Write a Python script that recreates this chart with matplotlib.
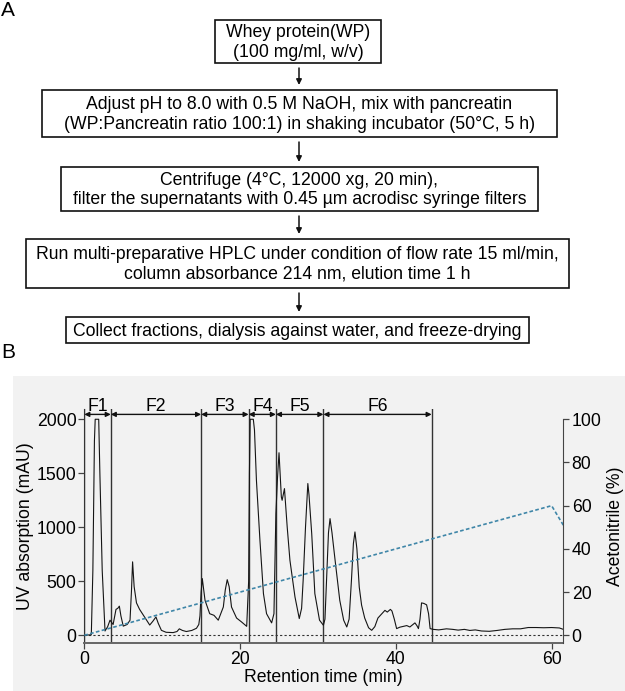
import matplotlib.pyplot as plt
from matplotlib.patches import Rectangle

plt.rcParams['font.family'] = ['Liberation Sans', 'DejaVu Sans']

# flowchart steps (panel A)
steps = [
    "Whey protein(WP)\n(100 mg/ml, w/v)",
    "Adjust pH to 8.0 with 0.5 M NaOH, mix with pancreatin\n"
    "(WP:Pancreatin ratio 100:1) in shaking incubator (50°C, 5 h)",
    "Centrifuge (4°C, 12000 xg, 20 min),\n"
    "filter the supernatants with 0.45 µm acrodisc syringe filters",
    "Run multi-preparative HPLC under condition of flow rate 15 ml/min,\n"
    "column absorbance 214 nm, elution time 1 h",
    "Collect fractions, dialysis against water, and freeze-drying",
]
# box extents in pixels: x0, x1, y0, y1
step_boxes = [(215, 381, 20, 63), (42, 557, 90, 137), (61, 538, 167, 211),
              (26, 569, 239, 288), (66, 529, 317, 343)]

# chromatogram (panel B)
retention_time = [0, 0.9, 1.1, 1.3, 1.4, 1.85, 2.0, 2.3, 2.66, 3.0, 3.3, 3.7,
                  4.07, 4.3, 4.5, 4.7, 5.0, 5.5, 5.87, 6.05, 6.2, 6.4, 6.7,
                  7.1, 7.6, 8.0, 8.4, 8.8, 9.2, 9.5, 9.9, 10.5, 11.4, 11.9,
                  12.2, 12.6, 13.1, 13.8, 14.4, 14.7, 14.85, 15.0, 15.15,
                  15.5, 16.1, 16.65, 17.2, 17.85, 18.1, 18.35, 18.6, 18.9,
                  19.55, 20.2, 20.85, 21.1, 21.2, 21.3, 21.7, 21.85, 22.1,
                  22.55, 23.0, 23.4, 24.05, 24.35, 24.6, 24.8, 25.0, 25.3,
                  25.4, 25.7, 26.05, 26.4, 27.05, 27.6, 27.9, 28.1, 28.4,
                  28.7, 28.85, 29.2, 29.6, 30.2, 30.7, 30.9, 31.1, 31.35,
                  31.55, 31.8, 32.2, 32.8, 33.3, 33.7, 34.0, 34.3, 34.55,
                  34.75, 35.0, 35.3, 35.6, 36.0, 36.5, 36.9, 37.3, 37.7,
                  38.2, 38.6, 38.9, 39.3, 39.5, 39.8, 40.1, 40.5, 40.95,
                  41.4, 41.8, 42.1, 42.45, 42.7, 42.9, 43.1, 43.3, 43.6,
                  43.95, 44.2, 44.4, 44.8, 45.5, 46.5, 47.3, 48.0, 48.8,
                  49.5, 50.2, 51.0, 52.0, 53.0, 54.0, 55.0, 56.0, 57.0,
                  58.0, 59.0, 60.0, 61.0, 61.5]
uv_mau = [0, 5, 600, 1800, 2000, 2000, 1500, 600, 40, 80, 140, 100,
          240, 250, 270, 180, 85, 100, 140, 400, 680, 450, 300,
          240, 185, 140, 95, 130, 170, 110, 46, 28, 25, 35,
          60, 45, 35, 45, 65, 100, 180, 400, 525,
          324, 200, 185, 140, 262, 420, 515, 450, 262,
          160, 123, 83, 500, 1500, 2000, 2000, 1900, 1435,
          880, 386, 200, 115, 200, 1127, 1450, 1690, 1280,
          1250, 1358, 1003, 695, 355, 155, 250, 510, 1000,
          1405, 1300, 940, 386, 140, 93, 150, 510, 950,
          1080, 950, 695, 324, 140, 77, 150, 510, 850,
          957, 800, 447, 280, 160, 70, 46, 80, 160,
          200, 231, 215, 240, 225, 150, 62, 75, 83,
          90, 77, 95, 115, 90, 62, 150, 300, 295,
          282, 200, 62, 55, 50, 60, 55, 48, 55,
          45, 50, 40, 37, 45, 55, 60, 60, 72,
          72, 70, 72, 68, 55]

# acetonitrile gradient
gradient_time = [0, 60, 61.5]
acetonitrile = [0, 60, 51]

# fraction boundaries (min)
fraction_edges = [0, 3.4, 15.0, 21.1, 24.6, 30.7, 44.6]
fraction_names = ["F1", "F2", "F3", "F4", "F5", "F6"]

W, H = 625, 691
fig = plt.figure(figsize=(W / 100, H / 100), dpi=100)

# pixel-space overlay for the flowchart and panel letters
ax0 = fig.add_axes([0, 0, 1, 1], zorder=0)
ax0.set_xlim(0, W)
ax0.set_ylim(H, 0)
ax0.axis('off')

ax0.add_patch(Rectangle((13, 376), W - 13, H - 376, facecolor='#f2f2f2',
                        edgecolor='none'))

for text, (x0, x1, y0, y1) in zip(steps, step_boxes):
    ax0.add_patch(Rectangle((x0, y0), x1 - x0, y1 - y0, facecolor='white',
                            edgecolor='#111111', lw=1.2))
    ax0.text((x0 + x1) / 2, (y0 + y1) / 2 + 1, text, ha='center', va='center',
             fontsize=12.7, linespacing=1.2)

for (_, _, _, y_top), (_, _, y_next, _) in zip(step_boxes[:-1], step_boxes[1:]):
    ax0.annotate('', xy=(299, y_next - 5), xytext=(299, y_top + 5),
                 arrowprops=dict(arrowstyle='-|>', color='#111111', lw=1.1,
                                 mutation_scale=8, shrinkA=0, shrinkB=0))

ax0.text(8, 10, "A", fontsize=15, ha='center', va='center')
ax0.text(8, 352, "B", fontsize=15, ha='center', va='center')

# chart
ax = fig.add_axes([84.3 / W, 1 - 643.3 / H, 479 / W, 234.3 / H], zorder=2)
ax.set_facecolor('none')
ax.plot(retention_time, uv_mau, color='#151515', lw=0.8, zorder=3)
ax.axhline(0, color='#333333', lw=0.8, ls=(0, (2, 2)), zorder=2)
ax.set_xlim(0, 61.5)
ax.set_ylim(-74, 2095)

for xe in fraction_edges:
    ax.axvline(xe, color='#333333', lw=1.0, zorder=2)
for name, x0, x1 in zip(fraction_names, fraction_edges[:-1], fraction_edges[1:]):
    ax.annotate('', xy=(x1, 2045), xytext=(x0, 2045), annotation_clip=False,
                arrowprops=dict(arrowstyle='<|-|>', color='#111111', lw=1.0,
                                mutation_scale=7, shrinkA=0, shrinkB=0))
    ax.text((x0 + x1) / 2, 2120, name, ha='center', va='center',
            fontsize=12.7)

ax.spines['top'].set_visible(False)
ax.spines['right'].set_visible(False)
ax.spines['left'].set_color('#333333')
ax.spines['bottom'].set_color('#666666')
ax.spines['bottom'].set_linewidth(1.4)
ax.set_xticks([0, 20, 40, 60])
ax.set_yticks([0, 500, 1000, 1500, 2000])
ax.tick_params(labelsize=12.7, length=4, width=0.9, pad=1.5, color='#444444')
ax.set_xlabel("Retention time (min)", fontsize=12.7, labelpad=1)
ax.set_ylabel("UV absorption (mAU)", fontsize=12.7, labelpad=2)

ax2 = ax.twinx()
ax2.plot(gradient_time, acetonitrile, color='#3f86a8', lw=1.2,
         ls=(0, (2.2, 1.4)))
ax2.set_ylim(-3.7, 104.75)
ax2.set_yticks([0, 20, 40, 60, 80, 100])
for side in ['top', 'left', 'bottom']:
    ax2.spines[side].set_visible(False)
ax2.spines['right'].set_color('#444444')
ax2.spines['right'].set_bounds(-3.7, 100)
ax2.tick_params(labelsize=12.7, length=4, width=0.9, pad=2, color='#444444')
ax2.set_ylabel("Acetonitrile (%)", fontsize=12.7, labelpad=4)

fig.savefig("out.png", dpi=100)
